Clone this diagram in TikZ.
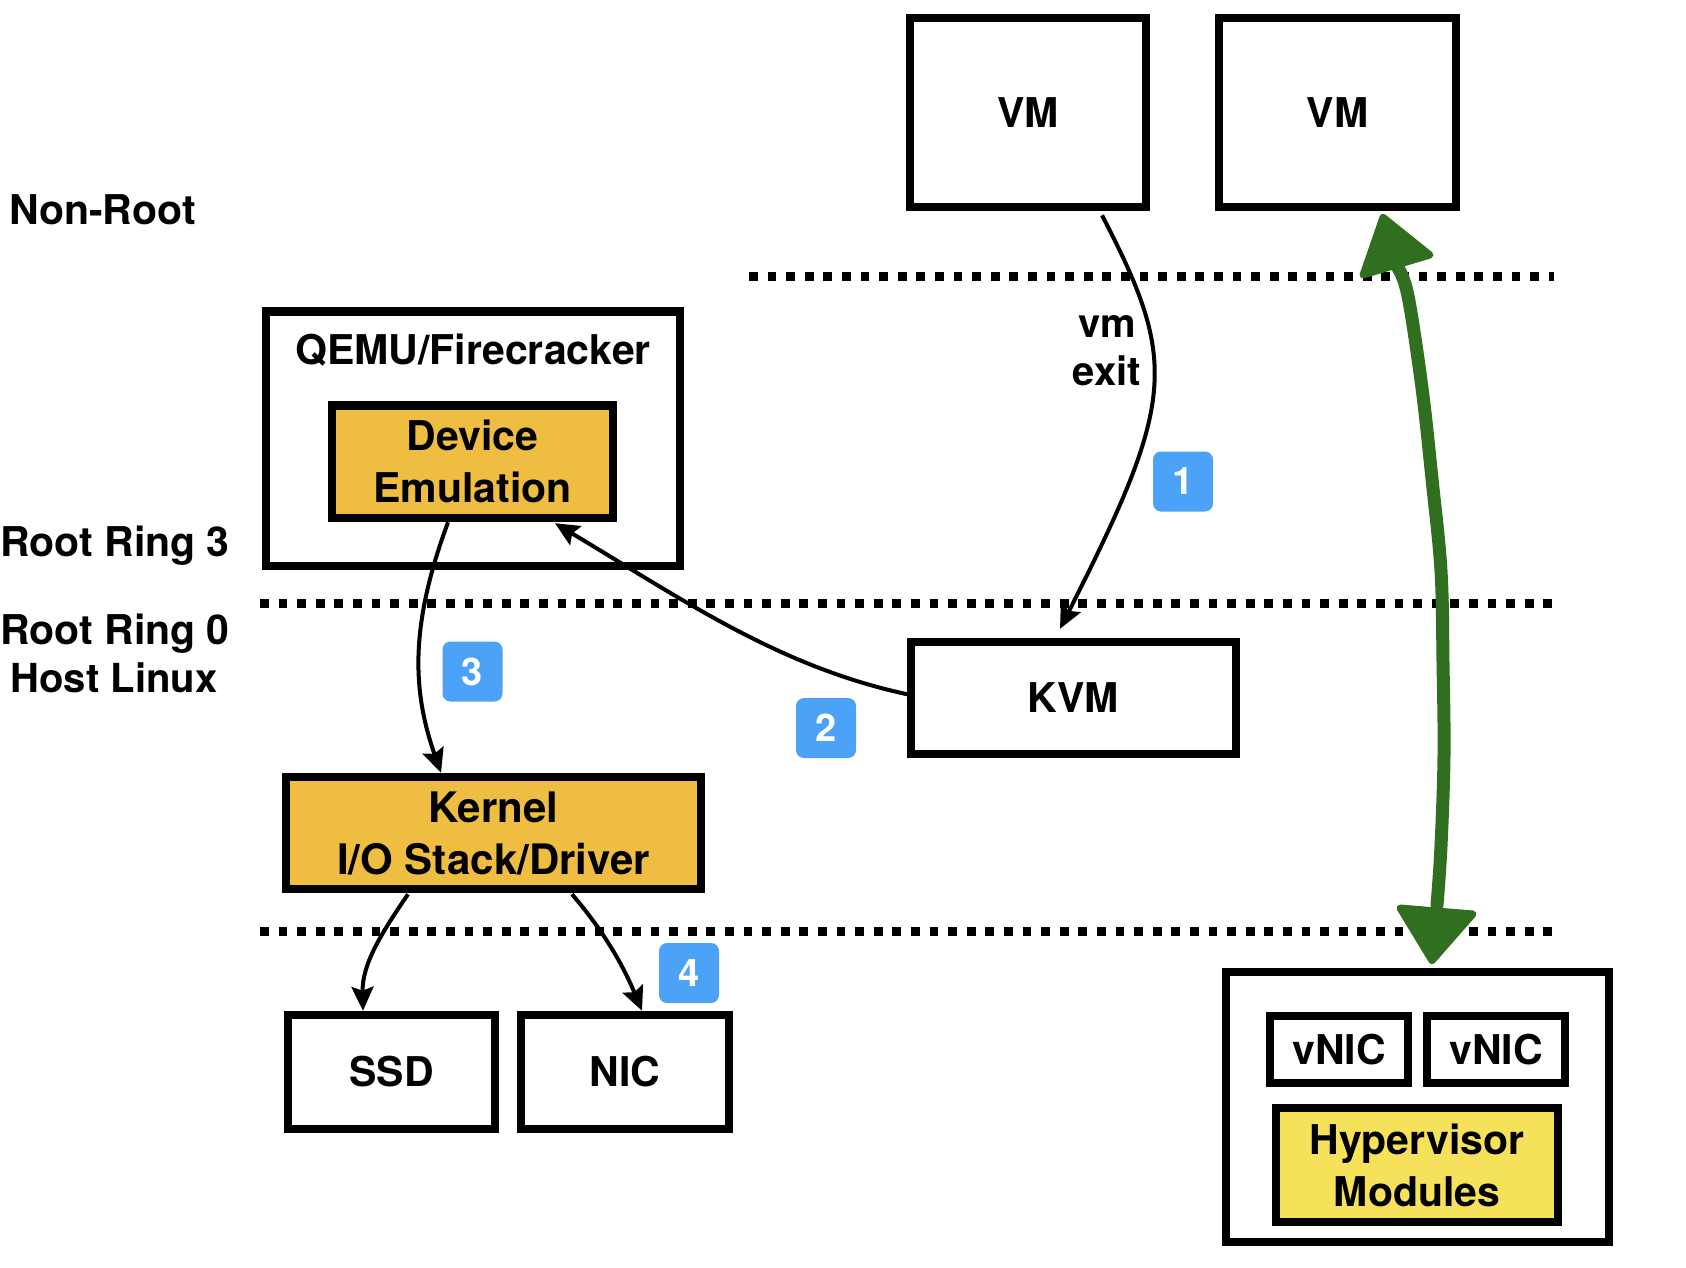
\documentclass[tikz,border=0pt]{standalone}
\usepackage{fontspec}
\setmainfont{TeX Gyre Heros}
\usetikzlibrary{arrows.meta,calc}
\definecolor{emuorange}{RGB}{239,189,66}
\definecolor{hypyellow}{RGB}{245,226,90}
\definecolor{badgeblue}{RGB}{76,162,246}
\definecolor{handgreen}{RGB}{48,110,32}
\begin{document}
\begin{tikzpicture}[x=1pt,y=-1pt,
  box/.style={draw=black, line width=8.5pt, inner sep=0pt, align=center,
    font=\fontsize{41}{52}\selectfont\bfseries, fill=white},
  lbl/.style={inner sep=0pt, font=\fontsize{41}{48}\selectfont\bfseries},
  badge/.style={fill=badgeblue, rounded corners=8pt, minimum size=60pt, inner sep=0pt,
    text=white, font=\fontsize{38}{38}\selectfont\bfseries},
  sepline/.style={line width=9pt, dash pattern=on 8.7pt off 9.9pt},
  flow/.style={line width=4pt, -{Stealth[length=24pt,width=22pt,inset=4pt]}},
  greenline/.style={handgreen, line width=13pt, line cap=round, line join=round},
  greenhead/.style={fill=handgreen, draw=handgreen, line width=7pt, line join=round}
]
\useasboundingbox (0,0) rectangle (1686,1268);

% layer separators
\draw[sepline] (749,276.5) -- (1554,276.5);
\draw[sepline] (260,603.5) -- (1554,603.5);
\draw[sepline] (260,931.5) -- (1554,931.5);

% layer labels
\node[lbl, anchor=base west] (nonroot) at (9,225) {Non-Root};
\node[lbl, anchor=base] (ring3) at (115,556) {Root Ring 3};
\node[lbl, anchor=base] (ring0) at (115,644) {Root Ring 0};
\node[lbl, anchor=base, font=\fontsize{40}{48}\selectfont\bfseries] (hostlinux) at (114,692) {Host Linux};

% VMs
\node[box, minimum width=236pt, minimum height=189pt] (vm1) at (1028,112.5) {VM};
\node[box, minimum width=237pt, minimum height=189pt] (vm2) at (1337.5,112.5) {VM};

% QEMU / device emulation
\node[box, minimum width=414pt, minimum height=254.5pt] (qemu) at (473,438.75) {};
\node[lbl, anchor=base, font=\fontsize{41}{46}\selectfont\bfseries] (qemulbl) at (473,364) {QEMU/Firecracker};
\node[box, fill=emuorange, minimum width=281pt, minimum height=112.5pt] (emu) at (472.5,461.75) {Device\\Emulation};

% KVM
\node[box, minimum width=325pt, minimum height=112pt] (kvm) at (1073.5,698) {KVM};

% kernel and devices
\node[box, fill=emuorange, minimum width=415pt, minimum height=112pt,
  font=\fontsize{42}{52}\selectfont\bfseries] (kern) at (493.5,833) {Kernel\\I/O Stack/Driver};
\node[box, minimum width=207pt, minimum height=114pt] (ssd) at (391.5,1072) {SSD};
\node[box, minimum width=208pt, minimum height=114pt] (nic) at (625,1072) {NIC};

% hypervisor
\node[box, minimum width=383pt, minimum height=270pt] (hyp) at (1417.5,1107) {};
\node[box, minimum width=138pt, minimum height=67pt] (vnic1) at (1339,1049.5) {vNIC};
\node[box, minimum width=138pt, minimum height=67pt] (vnic2) at (1496,1049.5) {vNIC};
\node[box, fill=hypyellow, minimum width=282pt, minimum height=114pt] (hm) at (1417,1165) {Hypervisor\\Modules};

% vm exit label
\node[lbl, anchor=base, font=\fontsize{40}{48}\selectfont\bfseries] (vmlbl) at (1107,337) {vm};
\node[lbl, anchor=base, font=\fontsize{40}{48}\selectfont\bfseries] (exitlbl) at (1107,385) {exit};

% black flows
\draw[flow] ($(vm1.south)+(74,4)$) .. controls (1178,362) and (1176,400) .. ($(kvm.north)+(-13.5,-9)$);
\draw[flow] ($(kvm.west)+(4,-3)$) .. controls (781,668) and (685,601) .. ($(emu.south)+(82.5,1)$);
\draw[flow] ($(emu.south)+(-24.5,0)$) .. controls (410,625) and (412,690) .. ($(kern.north)+(-52.5,0)$);
\draw[flow] ($(kern.south)+(-85.5,1)$) .. controls (380,935) and (362,965) .. ($(ssd.north)+(-28.5,0)$);
\draw[flow] ($(kern.south)+(78.5,1)$) .. controls (607,935) and (625,970) .. ($(nic.north)+(17,0)$);

% green double arrow
\coordinate (gtop) at ($(vm2.south)+(45.5,6)$);
\coordinate (gbot) at ($(hyp.north)+(14.5,-7)$);
\draw[greenline] plot[smooth, tension=0.6] coordinates {(1398,268) (1408,296) (1422,388) (1432,479) (1441,571) (1443,663) (1444,755) (1441,846) (1437,905)};
\filldraw[greenhead] (gtop) -- (1363,275) -- (1430,255) -- cycle;
\filldraw[greenhead] (gbot) -- (1400,908) -- (1473,914) -- cycle;

% badges
\node[badge] (b1) at (1183,481.5) {1};
\node[badge] (b2) at (826,728) {2};
\node[badge] (b3) at (472.5,671.5) {3};
\node[badge] (b4) at (689,973) {4};
\end{tikzpicture}
\end{document}
